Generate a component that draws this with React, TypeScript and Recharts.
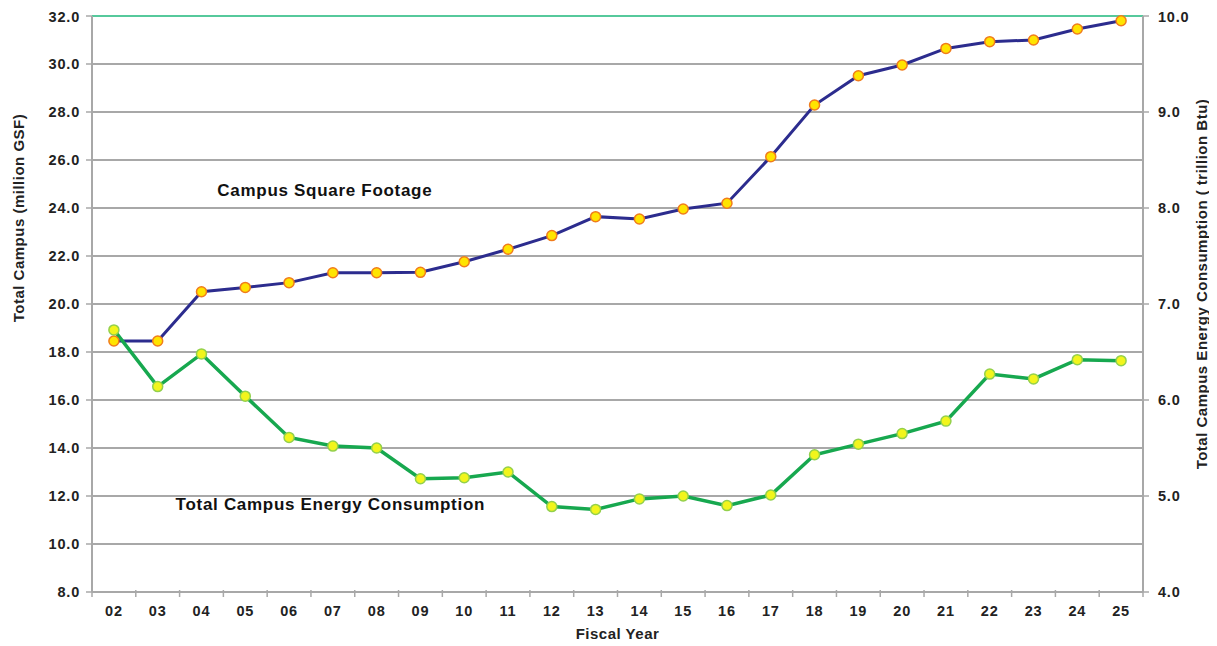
import React from "react";
import {
  CartesianGrid,
  Line,
  LineChart,
  ReferenceDot,
  ReferenceLine,
  XAxis,
  YAxis,
} from "recharts";

const years = [
  "02", "03", "04", "05", "06", "07", "08", "09", "10", "11", "12", "13",
  "14", "15", "16", "17", "18", "19", "20", "21", "22", "23", "24", "25",
];

// million GSF, left axis
const squareFootage = [
  18.46, 18.46, 20.51, 20.69, 20.89, 21.3, 21.3, 21.32, 21.76, 22.28, 22.85, 23.64,
  23.54, 23.96, 24.2, 26.14, 28.29, 29.51, 29.96, 30.65, 30.93, 31.0, 31.46, 31.8,
];

// trillion Btu, right axis
const energy = [
  6.73, 6.14, 6.48, 6.04, 5.61, 5.52, 5.5, 5.18, 5.19, 5.25, 4.89, 4.86,
  4.97, 5.0, 4.9, 5.01, 5.43, 5.54, 5.65, 5.78, 6.27, 6.22, 6.42, 6.41,
];

const leftTicks = [8, 10, 12, 14, 16, 18, 20, 22, 24, 26, 28, 30, 32];
const rightTicks = [4, 5, 6, 7, 8, 9, 10];

const data = years.map((year, i) => ({
  year,
  sqft: squareFootage[i],
  energy: energy[i],
}));

const FONT = "'Liberation Sans', Arial, sans-serif";
const GRID = "#a8a8a8";
const HALF_BAND = 21.9;

const tickStyle = {
  fontFamily: FONT,
  fontSize: 14.5,
  fontWeight: 700,
  fill: "#222",
  letterSpacing: 0.8,
};

const titleStyle = {
  fontFamily: FONT,
  fontSize: 15,
  fontWeight: 700,
  fill: "#222",
  letterSpacing: 0.5,
};

function YearTick(props: any) {
  const { x, y, payload, index } = props;
  const axisY = y - 8;
  return (
    <g>
      <line x1={x - HALF_BAND} x2={x - HALF_BAND} y1={axisY - 2} y2={axisY + 5} stroke={GRID} strokeWidth={1.5} />
      {index === years.length - 1 && (
        <line x1={x + HALF_BAND} x2={x + HALF_BAND} y1={axisY - 2} y2={axisY + 5} stroke={GRID} strokeWidth={1.5} />
      )}
      <text x={x} y={y + 16} textAnchor="middle" style={tickStyle}>
        {payload.value}
      </text>
    </g>
  );
}

const verticalTitle = (text: string, dx: number, dy: number) => (props: any) => {
  const { viewBox } = props;
  const x = viewBox.x + dx;
  const y = viewBox.y + dy;
  return (
    <text
      x={x}
      y={y}
      transform={`rotate(-90, ${x}, ${y})`}
      textAnchor="middle"
      dominantBaseline="central"
      style={titleStyle}
    >
      {text}
    </text>
  );
};

const annotation = (text: string, dx: number) => (props: any) => {
  const { viewBox } = props;
  return (
    <text
      x={viewBox.x + viewBox.width / 2 + dx}
      y={viewBox.y + viewBox.height / 2}
      textAnchor="middle"
      dominantBaseline="central"
      style={{ fontFamily: FONT, fontSize: 17, fontWeight: 700, fill: "#111", letterSpacing: 0.7 }}
    >
      {text}
    </text>
  );
};

export default function App() {
  return (
    <LineChart
      width={1209}
      height={638}
      data={data}
      margin={{ top: 8, right: 8, bottom: 0, left: 0 }}
      style={{ overflow: "visible" }}
    >
      <CartesianGrid yAxisId="left" vertical={false} stroke={GRID} strokeWidth={2} />
      <XAxis
        dataKey="year"
        height={54}
        padding={{ left: HALF_BAND, right: HALF_BAND }}
        tickLine={false}
        axisLine={{ stroke: GRID, strokeWidth: 2 }}
        tick={<YearTick />}
        interval={0}
        label={{
          value: "Fiscal Year",
          position: "insideBottom",
          offset: 7,
          style: titleStyle,
        }}
      />
      <YAxis
        yAxisId="left"
        domain={[8, 32]}
        ticks={leftTicks}
        width={84}
        tickFormatter={(v: number) => v.toFixed(1)}
        tick={tickStyle}
        tickSize={6}
        tickMargin={6}
        tickLine={{ stroke: GRID, strokeWidth: 1.5 }}
        axisLine={{ stroke: GRID, strokeWidth: 2 }}
        label={verticalTitle("Total Campus (million GSF)", 10, 202)}
      />
      <YAxis
        yAxisId="right"
        orientation="right"
        domain={[4, 10]}
        ticks={rightTicks}
        width={66}
        tickFormatter={(v: number) => v.toFixed(1)}
        tick={tickStyle}
        tickSize={6}
        tickMargin={9}
        tickLine={{ stroke: GRID, strokeWidth: 1.5 }}
        axisLine={{ stroke: GRID, strokeWidth: 2 }}
        label={verticalTitle("Total Campus Energy Consumption ( trillion Btu)", 58, 268)}
      />
      <ReferenceLine yAxisId="left" y={32} stroke="#56c99c" strokeWidth={2} />
      <Line
        yAxisId="left"
        dataKey="sqft"
        type="linear"
        stroke="#2c2c8e"
        strokeWidth={3}
        dot={{ r: 5, fill: "#ffe400", stroke: "#f07c1c", strokeWidth: 1.5 }}
        activeDot={false}
        isAnimationActive={false}
      />
      <Line
        yAxisId="right"
        dataKey="energy"
        type="linear"
        stroke="#17a84f"
        strokeWidth={3.5}
        dot={{ r: 5, fill: "#f2f51c", stroke: "#93d04c", strokeWidth: 1.5 }}
        activeDot={false}
        isAnimationActive={false}
      />
      <ReferenceDot
        yAxisId="left"
        x="07"
        y={24.75}
        r={0}
        fill="none"
        stroke="none"
        label={annotation("Campus Square Footage", -8)}
      />
      <ReferenceDot
        yAxisId="left"
        x="07"
        y={11.63}
        r={0}
        fill="none"
        stroke="none"
        label={annotation("Total Campus Energy Consumption", -2.5)}
      />
    </LineChart>
  );
}
